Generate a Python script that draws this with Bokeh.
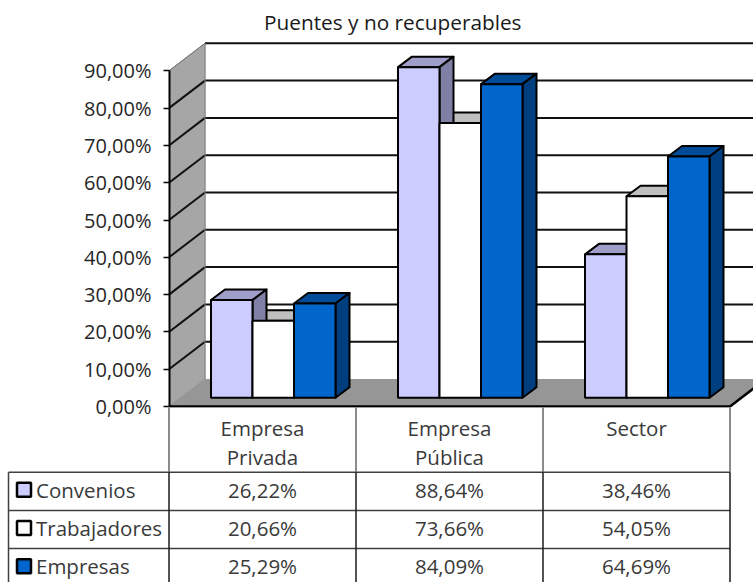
from bokeh.plotting import figure
from bokeh.layouts import column
from bokeh.models import Range1d, FixedTicker, ColumnDataSource
from bokeh.core.properties import value
from bokeh.embed import file_html
from bokeh.resources import INLINE

title_text = "Puentes y no recuperables"
categories = ["Empresa\nPrivada", "Empresa\nPública", "Sector"]
series_names = ["Convenios", "Trabajadores", "Empresas"]
convenios = [26.22, 88.64, 38.46]
trabajadores = [20.66, 73.66, 54.05]
empresas = [25.29, 84.09, 64.69]
tick_values = [0, 10, 20, 30, 40, 50, 60, 70, 80, 90]
front_colors = ["#CCCCFF", "#FFFFFF", "#0066CC"]
top_colors = ["#9E9EC8", "#BFBFBF", "#004C99"]
side_colors = ["#8080A6", "#9A9A9A", "#003F7F"]

series = [convenios, trabajadores, empresas]
FONT = value("Open Sans")
INK = "#3A3A3A"
CAT_PX = 187.0
VAL_PX = 3.73
DX = 36 / CAT_PX          # depth of the 3D box
DY = 27.5 / VAL_PX
BAR_W = 41.5 / CAT_PX
BAR_DX = 14 / CAT_PX      # depth of a bar
BAR_DY = 10.5 / VAL_PX
BAR_X0 = 0.0575           # shift of the bar plane
BAR_Y0 = 8.7 / VAL_PX
X_SHIFT = 0.5 / CAT_PX
X_END = (753 - 169) / CAT_PX + X_SHIFT
n_cat = len(categories)
vmax = tick_values[-1]
BOTTOM_ROOM = 16


def fmt(v):
    return f"{v:.2f}".replace(".", ",") + "%"


p = figure(width=753, height=405 + BOTTOM_ROOM, output_backend="svg", toolbar_location=None,
           x_range=Range1d(X_SHIFT, X_END),
           y_range=Range1d(-1 / VAL_PX, (406 - 38) / VAL_PX),
           frame_height=369, frame_width=584, frame_align=False, margin=(2, 0, 0, 0),
           min_border_left=169, min_border_right=0, min_border_top=0, min_border_bottom=BOTTOM_ROOM,
           x_axis_location=None, outline_line_color=None)
p.grid.visible = False
p.title.text = title_text
p.title.align = "left"
p.title.offset = 263.5 - 169
p.title.standoff = 6
p.title.text_font = "Open Sans"
p.title.text_font_style = "normal"
p.title.text_font_size = "20.8px"
p.title.text_color = "#1A1A1A"

ax = p.yaxis[0]
ax.ticker = FixedTicker(ticks=tick_values)
ax.major_label_overrides = {t: fmt(t) for t in tick_values}
ax.bounds = (0, vmax)
ax.major_tick_out = 6
ax.major_tick_in = 0
ax.minor_tick_line_color = None
ax.axis_line_color = "#000000"
ax.axis_line_width = 2
ax.major_tick_line_color = "#000000"
ax.major_tick_line_width = 1.5
ax.major_label_standoff = 12
ax.major_label_text_font = "Open Sans"
ax.major_label_text_font_size = "20px"
ax.major_label_text_color = "#262626"

# walls and floor
p.patch([0, DX, DX, 0], [0, DY, vmax + DY, vmax], fill_color="#A6A6A6", line_color="#8C8C8C", line_width=1)
p.patch([0, DX, n_cat + DX, n_cat], [0, DY, DY, 0], fill_color="#969696", line_color=None)
grid_ticks = tick_values[1:]
p.segment([DX] * len(grid_ticks), [t + DY for t in grid_ticks],
          [n_cat + DX] * len(grid_ticks), [t + DY for t in grid_ticks],
          line_color="#111111", line_width=2)
p.segment([0] * (len(grid_ticks) - 1), grid_ticks[:-1], [DX] * (len(grid_ticks) - 1),
          [t + DY for t in grid_ticks[:-1]], line_color="#111111", line_width=2)
p.line([0, DX], [vmax, vmax + DY], line_color="#777777", line_width=1)
p.line([DX, DX], [DY, vmax + DY], line_color="#8C8C8C", line_width=1)
p.line([0, n_cat, n_cat + DX], [0, 0, DY], line_color="#000000", line_width=2.5)

# bars: tops and sides from right to left, then the front faces
for s in reversed(range(len(series))):
    for c in reversed(range(n_cat)):
        v = series[s][c]
        x0 = c + 0.5 + BAR_X0 + (s - 1.5) * BAR_W
        x1 = x0 + BAR_W
        y0 = BAR_Y0
        y1 = BAR_Y0 + v
        p.patch([x0, x0 + BAR_DX, x1 + BAR_DX, x1], [y1, y1 + BAR_DY, y1 + BAR_DY, y1],
                fill_color=top_colors[s], line_color="#000000", line_width=2, line_join="round")
        p.patch([x1, x1 + BAR_DX, x1 + BAR_DX, x1], [y0, y0 + BAR_DY, y1 + BAR_DY, y1],
                fill_color=side_colors[s], line_color="#000000", line_width=2, line_join="round")
for s in range(len(series)):
    src = ColumnDataSource(dict(
        left=[c + 0.5 + BAR_X0 + (s - 1.5) * BAR_W for c in range(n_cat)],
        right=[c + 0.5 + BAR_X0 + (s - 0.5) * BAR_W for c in range(n_cat)],
        top=[BAR_Y0 + v for v in series[s]],
        bottom=[BAR_Y0] * n_cat))
    p.quad(left="left", right="right", top="top", bottom="bottom", source=src,
           fill_color=front_colors[s], line_color="#000000", line_width=2)

# data table
ROW_PX = 38.2
LEFT_PX = 169
t = figure(width=753, height=175, output_backend="svg", toolbar_location=None,
           x_range=Range1d(-LEFT_PX / CAT_PX + X_SHIFT, X_END),
           y_range=Range1d(-(582 - 471.7) / ROW_PX, (471.7 - 407) / ROW_PX),
           frame_align=False, margin=(-BOTTOM_ROOM, 0, 0, 0),
           background_fill_color=None, border_fill_color=None,
           min_border=0, x_axis_location=None, y_axis_location=None, outline_line_color=None)
t.grid.visible = False
x_left = (8.5 - LEFT_PX) / CAT_PX
y_top = (471.7 - 406) / ROW_PX
y_bot = -3
rows = [0, -1, -2]
t.segment([x_left] * 3, rows, [n_cat] * 3, rows, line_color="#404040", line_width=1.5)
t.segment(list(range(n_cat + 1)), [y_top] * (n_cat + 1), list(range(n_cat + 1)), [0] * (n_cat + 1),
          line_color="#666666", line_width=1.5)
t.segment(list(range(n_cat + 1)), [0] * (n_cat + 1), list(range(n_cat + 1)), [y_bot] * (n_cat + 1),
          line_color="#1A1A1A", line_width=1.5)
t.line([x_left, x_left], [0, y_bot], line_color="#404040", line_width=1.5)

t.text([c + 0.5 for c in range(n_cat)], [y_top - 7 / ROW_PX] * n_cat, text=categories,
       text_align="center", text_baseline="top", text_font=FONT, text_font_size="20.5px",
       text_color=INK, text_line_height=1.05)
for s, vals in enumerate(series):
    y = -s - 0.5 + 1.5 / ROW_PX
    t.text([c + 0.5 for c in range(n_cat)], [y] * n_cat, text=[fmt(v) for v in vals],
           text_align="center", text_baseline="middle", text_font=FONT, text_font_size="20.5px",
           text_color=INK)
    t.scatter([(24 - LEFT_PX) / CAT_PX], [y], marker="square", size=14, fill_color=front_colors[s],
              line_color="#000000", line_width=2.5)
    t.text([(36 - LEFT_PX) / CAT_PX], [y], text=[series_names[s]], text_align="left", text_baseline="middle",
           text_font=FONT, text_font_size="20.5px", text_color=INK)

open("out.html", "w").write(file_html(column(p, t, spacing=0), INLINE))
